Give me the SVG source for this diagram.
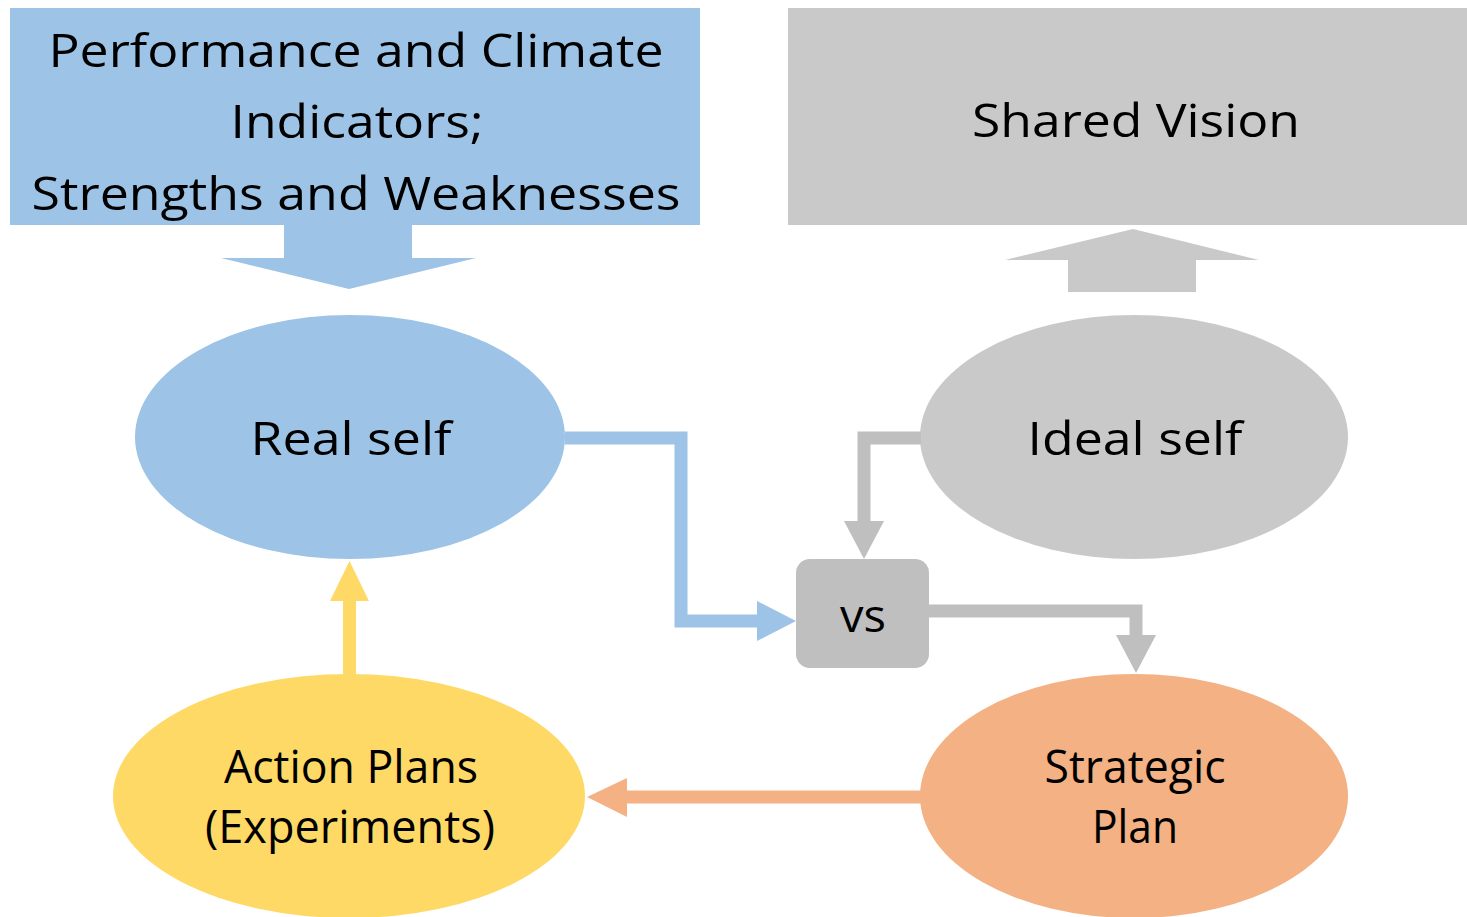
<svg xmlns="http://www.w3.org/2000/svg" width="1467" height="917" viewBox="0 0 1467 917">
  <style>
    .lbl { font-family: "Open Sans", "Noto Sans", "Liberation Sans", sans-serif; font-size: 46px; fill: #000; text-anchor: middle; }
    .blue { fill: #9DC3E6; }
    .grey { fill: #C9C9C9; }
    .dark { fill: #BFBFBF; }
    .yellow { fill: #FFD966; }
    .orange { fill: #F4B183; }
    .wire { fill: none; stroke-width: 13; stroke-linejoin: miter; }
  </style>
  <rect width="1467" height="917" fill="#ffffff"/>

  <g id="indicators">
    <rect class="blue" x="10" y="8" width="690" height="217"/>
    <text class="lbl" x="356" y="67" textLength="615" lengthAdjust="spacingAndGlyphs">Performance and Climate</text>
    <text class="lbl" x="357" y="138" textLength="253" lengthAdjust="spacingAndGlyphs">Indicators;</text>
    <text class="lbl" x="356" y="210" textLength="649" lengthAdjust="spacingAndGlyphs">Strengths and Weaknesses</text>
  </g>

  <g id="shared-vision">
    <rect class="grey" x="788" y="8" width="679" height="217"/>
    <text class="lbl" x="1136" y="137" textLength="328" lengthAdjust="spacingAndGlyphs">Shared Vision</text>
  </g>

  <g id="real-self">
    <ellipse class="blue" cx="350" cy="437" rx="215" ry="122"/>
    <text class="lbl" x="351" y="455" textLength="201" lengthAdjust="spacingAndGlyphs">Real self</text>
  </g>

  <g id="ideal-self">
    <ellipse class="grey" cx="1134" cy="437" rx="214" ry="122"/>
    <text class="lbl" x="1135" y="455" textLength="215" lengthAdjust="spacingAndGlyphs">Ideal self</text>
  </g>

  <g id="vs">
    <rect class="dark" x="796" y="559" width="133" height="109" rx="14" ry="14"/>
    <text class="lbl" x="863" y="632" textLength="46" lengthAdjust="spacingAndGlyphs">vs</text>
  </g>

  <g id="action-plans">
    <ellipse class="yellow" cx="349" cy="796" rx="236" ry="122"/>
    <text class="lbl" x="351" y="783" textLength="254" lengthAdjust="spacingAndGlyphs">Action Plans</text>
    <text class="lbl" x="350" y="843" textLength="290" lengthAdjust="spacingAndGlyphs">(Experiments)</text>
  </g>

  <g id="strategic-plan">
    <ellipse class="orange" cx="1134" cy="796" rx="214" ry="122"/>
    <text class="lbl" x="1135" y="783" textLength="181" lengthAdjust="spacingAndGlyphs">Strategic</text>
    <text class="lbl" x="1135" y="843" textLength="86" lengthAdjust="spacingAndGlyphs">Plan</text>
  </g>

  <g id="connectors">
    <!-- block arrow: indicators feed the real self -->
    <polygon class="blue" points="284,225 412,225 412,258 476,258 349,289 221,258 284,258"/>
    <!-- block arrow: ideal self builds the shared vision -->
    <polygon class="grey" points="1133,229 1259,260 1196,260 1196,292 1068,292 1068,260 1005,260"/>

    <!-- real self to vs -->
    <polyline class="wire" stroke="#9DC3E6" points="565,438 681,438 681,621 758,621"/>
    <polygon class="blue" points="757,601 796,621 757,641"/>

    <!-- ideal self to vs -->
    <polyline class="wire" stroke="#BFBFBF" points="921,438 864,438 864,522"/>
    <polygon class="dark" points="844,521 884,521 864,559"/>

    <!-- vs to strategic plan -->
    <polyline class="wire" stroke="#BFBFBF" points="929,611 1136,611 1136,636"/>
    <polygon class="dark" points="1116,635 1156,635 1136,673"/>

    <!-- strategic plan to action plans -->
    <line class="wire" stroke="#F4B183" x1="921" y1="797" x2="626" y2="797"/>
    <polygon class="orange" points="627,778 627,817 587,797"/>

    <!-- action plans back to real self -->
    <line class="wire" stroke="#FFD966" x1="349.5" y1="675" x2="349.5" y2="600"/>
    <polygon class="yellow" points="330,601 369,601 349.5,561"/>
  </g>
</svg>
